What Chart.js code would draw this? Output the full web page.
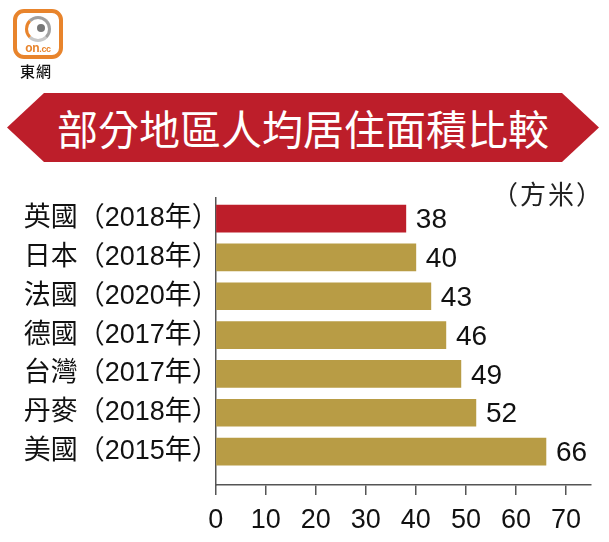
<!DOCTYPE html>
<html>
<head>
<meta charset="utf-8">
<script src="https://cdn.jsdelivr.net/npm/chart.js@4.4.1/dist/chart.umd.min.js"></script>
<style>
  body { margin: 0; background: #fff; }
  #wrap { position: relative; width: 609px; height: 542px; overflow: hidden; font-family: "Liberation Sans", "Noto Sans CJK TC", sans-serif; }
  #chart { position: absolute; left: 0; top: 0; }
  .logo { position: absolute; left: 13px; top: 9px; width: 42px; height: 42px; border: 4px solid #e8842c; border-radius: 11px; background: #fff; }
  .logo .ring { position: absolute; left: 8px; top: 3px; width: 20px; height: 20px; border: 3px solid #a0a0a0; border-radius: 50%; border-left-color: #e8842c; border-bottom-color: #c8c8c8; }
  .logo .dot { position: absolute; left: 20px; top: 11px; width: 8px; height: 8px; background: #777; border-radius: 50%; }
  .logo .txt { position: absolute; left: 0; width: 42px; top: 28px; text-align: center; font: bold 12px "Liberation Sans", sans-serif; color: #e8842c; letter-spacing: -0.3px; }
  .logo .txt span { font-size: 9px; color: #e8842c; }
  .brand { position: absolute; left: 20px; top: 60px; font: 500 15px "Noto Sans CJK TC", sans-serif; color: #111; letter-spacing: 1px; }
  .banner { position: absolute; left: 7px; top: 93px; width: 592px; height: 69px; background: #bd1e2a;
    clip-path: polygon(0 50%, 37px 0, calc(100% - 37px) 0, 100% 50%, calc(100% - 37px) 100%, 37px 100%); }
  .banner div { position: absolute; left: 0; right: 0; top: 0; text-align: center; color: #fff; font: 400 41px "Noto Sans CJK TC", sans-serif; line-height: 69px; }
  .unit { position: absolute; right: 5px; top: 174px; font: 26px "Noto Sans CJK TC", sans-serif; color: #222; letter-spacing: 2px; }
</style>
</head>
<body>
<div id="wrap">
  <canvas id="chart" width="609" height="542"></canvas>
  <div class="logo"><div class="ring"></div><div class="dot"></div><div class="txt">on<span>.cc</span></div></div>
  <div class="brand">東網</div>
  <div class="banner"><div>部分地區人均居住面積比較</div></div>
  <div class="unit">（方米）</div>
</div>
<script>
const categories = ['英國（2018年）', '日本（2018年）', '法國（2020年）', '德國（2017年）', '台灣（2017年）', '丹麥（2018年）', '美國（2015年）'];
const values = [38, 40, 43, 46, 49, 52, 66];
const xTicks = [0, 10, 20, 30, 40, 50, 60, 70];
const barColors = ['#bd1e2a', '#b89c45', '#b89c45', '#b89c45', '#b89c45', '#b89c45', '#b89c45'];

const valueLabels = {
  id: 'valueLabels',
  afterDatasetsDraw(chart) {
    const ctx = chart.ctx;
    const meta = chart.getDatasetMeta(0);
    ctx.save();
    ctx.font = '28px "Liberation Sans", sans-serif';
    ctx.fillStyle = '#111';
    ctx.textBaseline = 'middle';
    ctx.textAlign = 'left';
    meta.data.forEach((bar, i) => {
      ctx.fillText(values[i], bar.x + 10, bar.y + 2);
    });
    ctx.restore();
  }
};

new Chart(document.getElementById('chart'), {
  type: 'bar',
  data: {
    datasets: [{
      data: values.map((v, i) => ({ x: v, y: i })),
      backgroundColor: barColors,
      barThickness: 27,
      borderWidth: 0
    }]
  },
  options: {
    indexAxis: 'y',
    responsive: false,
    animation: false,
    layout: { padding: { top: 198, right: 18, left: 0, bottom: 0 } },
    plugins: { legend: { display: false }, tooltip: { enabled: false } },
    scales: {
      x: {
        type: 'linear',
        min: 0,
        max: 75,
        afterFit: s => { s.height = 57; },
        afterBuildTicks: s => { s.ticks = xTicks.map(v => ({ value: v })); },
        ticks: { color: '#111', font: { size: 27, family: '"Liberation Sans", sans-serif' }, padding: 9, maxRotation: 0, autoSkip: false },
        grid: { drawOnChartArea: false, drawTicks: true, tickLength: 10, color: '#555', lineWidth: 1.5 },
        border: { display: true, color: '#555', width: 1.5 }
      },
      y: {
        type: 'linear',
        reverse: true,
        offset: false,
        min: -0.53,
        max: 6.86,
        afterFit: s => { s.width = 215.7; },
        afterBuildTicks: s => { s.ticks = categories.map((c, i) => ({ value: i })); },
        ticks: {
          callback: v => categories[v],
          color: '#111',
          font: { size: 27, family: '"Liberation Sans", "Noto Sans CJK TC", sans-serif' },
          padding: -11,
          autoSkip: false
        },
        grid: { display: false },
        border: { display: true, color: '#555', width: 1.5 }
      }
    }
  },
  plugins: [valueLabels]
});
</script>
</body>
</html>
